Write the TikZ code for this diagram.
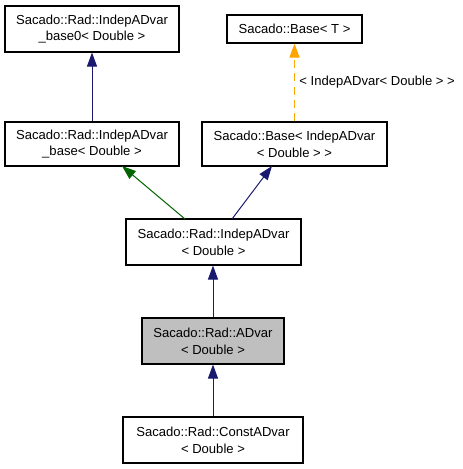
\documentclass[tikz,border=0pt]{standalone}
\usepackage{fontspec}
\setmainfont{Liberation Sans}
\usetikzlibrary{arrows.meta}
\definecolor{navy}{HTML}{191970}
\definecolor{dgreen}{HTML}{006400}
\definecolor{orng}{HTML}{FFA500}
\definecolor{hl}{HTML}{BFBFBF}
\begin{document}
\begin{tikzpicture}[x=0.75pt,y=-0.75pt,
  cls/.style={draw=black,line width=0.8pt,inner sep=0pt,align=center,
    font=\fontsize{9.8pt}{12.6pt}\selectfont},
  inh/.style={draw=navy,line width=0.75pt,-{Triangle[length=10.5pt,width=7.5pt]}},
  inhg/.style={draw=dgreen,line width=0.75pt,-{Triangle[length=10.5pt,width=7.5pt]}},
  tpl/.style={draw=orng,line width=0.75pt,dashed,dash pattern=on 6pt off 4pt,-{Triangle[length=10.5pt,width=7.5pt,fill=orng]}}]
\useasboundingbox (0,0) rectangle (463,469);
\node[cls,minimum width=130.5pt,minimum height=34.5pt] (a) at (92,29) {Sacado::Rad::IndepADvar\\\_base0< Double >};
\node[cls,minimum width=101.25pt,minimum height=21pt] (b) at (294.5,29) {Sacado::Base< T >};
\node[cls,minimum width=130.5pt,minimum height=33pt] (c) at (92,144) {Sacado::Rad::IndepADvar\\\_base< Double >};
\node[cls,minimum width=138.75pt,minimum height=33pt] (d) at (294.5,144) {Sacado::Base< IndepADvar\\< Double > >};
\node[cls,minimum width=131.25pt,minimum height=34.5pt] (e) at (213.5,242) {Sacado::Rad::IndepADvar\\< Double >};
\node[cls,fill=hl,minimum width=106.5pt,minimum height=34.5pt] (f) at (213,341) {Sacado::Rad::ADvar\\< Double >};
\node[cls,minimum width=135pt,minimum height=34.5pt] (g) at (213,440) {Sacado::Rad::ConstADvar\\< Double >};
\coordinate (e1) at (185,219);
\coordinate (c1) at (122,166);
\coordinate (e2) at (232,219);
\coordinate (d1) at (272,166);
\draw[inh] (c.north) -- (a.south);
\draw[tpl] (d.north -| b.south) -- node[right,xshift=0pt,font=\fontsize{9.8pt}{12pt}\selectfont,text=black] {< IndepADvar< Double > >} (b.south);
\draw[inhg] (e1) -- (c1);
\draw[inh] (e2) -- (d1);
\draw[inh] (f.north) -- (e.south -| f.north);
\draw[inh] (g.north) -- (f.south);
\end{tikzpicture}
\end{document}
